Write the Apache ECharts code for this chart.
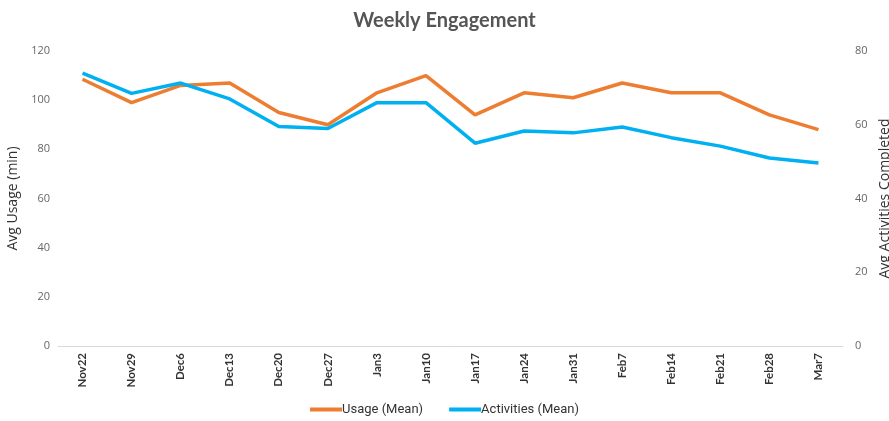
<!DOCTYPE html>
<html>
<head>
<meta charset="utf-8">
<title>Weekly Engagement</title>
<script src="https://cdn.jsdelivr.net/npm/echarts@6/dist/echarts.min.js"></script>
</head>
<body style="margin:0;overflow:hidden;background:#fff;">
<div id="main" style="width:889px;height:421px;"></div>
<script type="text/javascript">
var weeks = ['Nov22', 'Nov29', 'Dec6', 'Dec13', 'Dec20', 'Dec27', 'Jan3', 'Jan10',
	'Jan17', 'Jan24', 'Jan31', 'Feb7', 'Feb14', 'Feb21', 'Feb28', 'Mar7'];
var usageMean = [108.5, 99, 106, 107, 95, 90, 103, 110, 94, 103, 101, 107, 103, 103, 94, 88];
var activitiesMean = [74, 68.5, 71.3, 67, 59.5, 59, 66, 66, 55, 58.3, 57.8, 59.4, 56.5, 54.2, 51, 49.6];

var myChart = echarts.init(document.getElementById('main'));
var option = {
	title: {
		text: 'Weekly Engagement',
		left: 'center',
		top: 6,
		textStyle: { fontFamily: 'Lato', fontSize: 20, fontWeight: 'bold', color: '#555' }
	},
	legend: {
		bottom: 0,
		left: 'center',
		itemWidth: 32,
		itemHeight: 4,
		itemGap: 26,
		icon: 'rect',
		textStyle: { fontFamily: 'Roboto', fontSize: 13, color: '#333', padding: [0, 0, 0, -5] },
		data: ['Usage (Mean)', 'Activities (Mean)']
	},
	grid: { left: 58, right: 46, top: 51, bottom: 75, outerBoundsMode: 'none' },
	xAxis: {
		type: 'category',
		data: weeks,
		boundaryGap: true,
		axisLine: { lineStyle: { color: '#d9d9d9' } },
		axisTick: { show: false },
		axisLabel: { rotate: 90, interval: 0, fontFamily: 'Lato', fontWeight: 'bold', fontSize: 11.5, color: '#333', margin: 7 }
	},
	yAxis: [
		{
			type: 'value', min: 0, max: 120, interval: 20,
			name: 'Avg Usage (min)', nameLocation: 'middle', nameGap: 35, nameRotate: 90,
			nameTextStyle: { fontFamily: 'Open Sans', fontSize: 14, color: '#333' },
			axisLine: { show: false }, axisTick: { show: false }, splitLine: { show: false },
			axisLabel: { fontFamily: 'Open Sans', fontSize: 11, color: '#666', margin: 8 }
		},
		{
			type: 'value', min: 0, max: 80, interval: 20,
			name: 'Avg Activities Completed', nameLocation: 'middle', nameGap: 30, nameRotate: 90,
			nameTextStyle: { fontFamily: 'Open Sans', fontSize: 14, color: '#333' },
			axisLine: { show: false }, axisTick: { show: false }, splitLine: { show: false },
			axisLabel: { fontFamily: 'Open Sans', fontSize: 11, color: '#666', margin: 12 }
		}
	],
	series: [
		{
			name: 'Usage (Mean)', type: 'line', yAxisIndex: 0, data: usageMean,
			symbol: 'none', color: '#ED7D31', lineStyle: { width: 3.5, color: '#ED7D31' }
		},
		{
			name: 'Activities (Mean)', type: 'line', yAxisIndex: 1, data: activitiesMean,
			symbol: 'none', color: '#00B0F0', lineStyle: { width: 3.5, color: '#00B0F0' }
		}
	],
	animation: false
};
myChart.setOption(option);
</script>
</body>
</html>
